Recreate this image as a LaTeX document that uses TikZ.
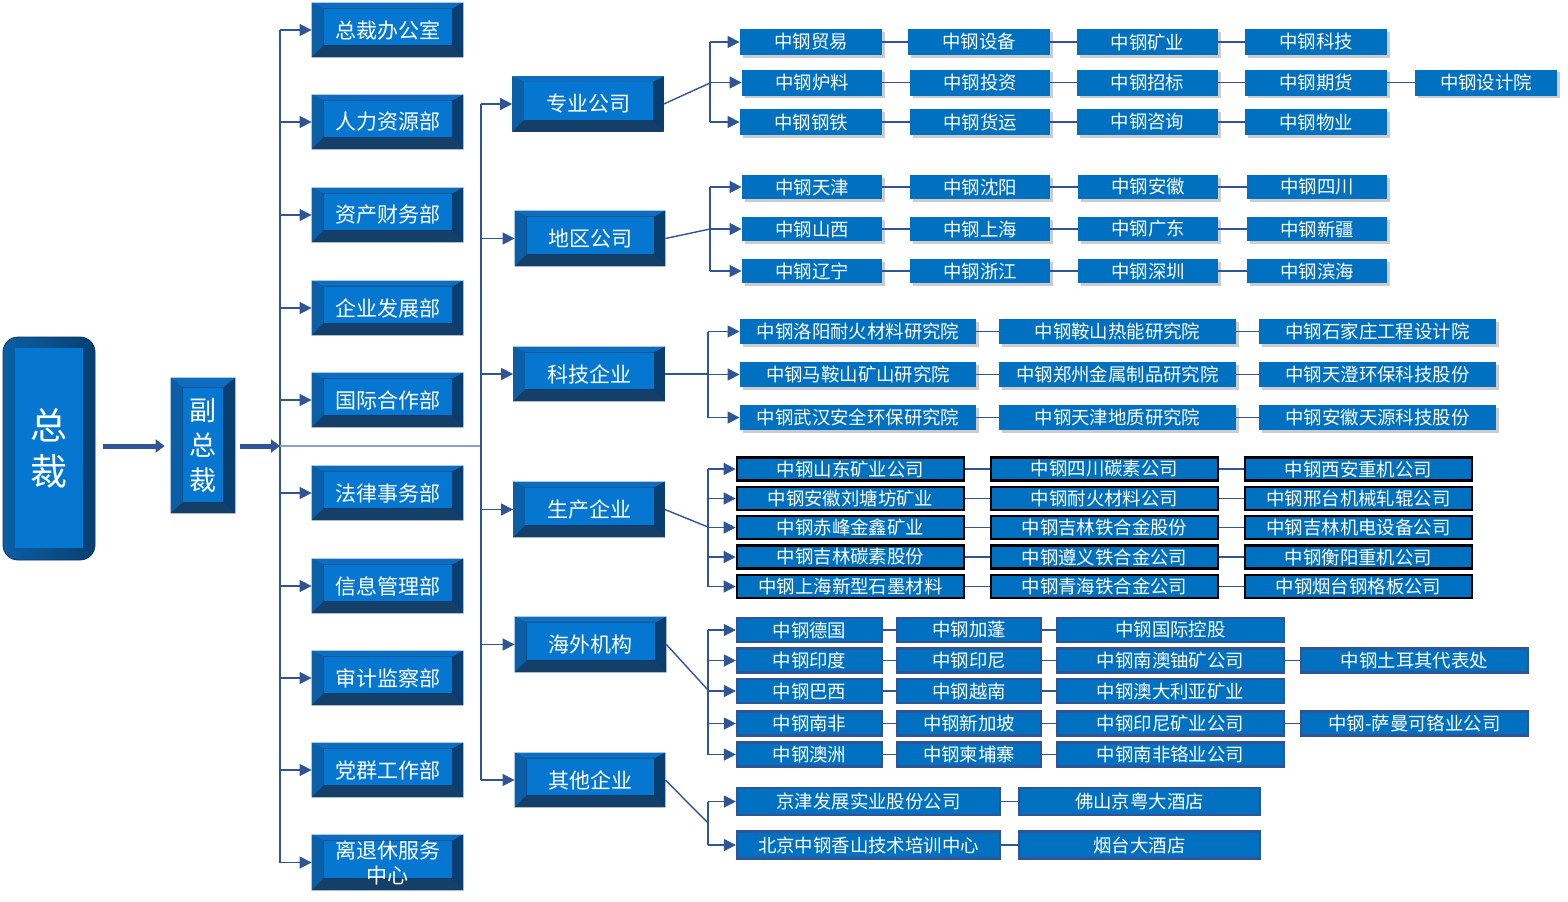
\documentclass[tikz,border=0pt]{standalone}
\usepackage{fontspec}
\setmainfont{Noto Sans CJK SC}
\usetikzlibrary{arrows.meta,shadows,calc}
\definecolor{lc}{HTML}{2F5597}
\definecolor{bf}{HTML}{0070C0}
\definecolor{bvface}{HTML}{0577D0}
\definecolor{bvtop}{HTML}{0E6DBE}
\definecolor{bvleft}{HTML}{0B5FA6}
\definecolor{bvright}{HTML}{083F70}
\definecolor{bvbot}{HTML}{143F68}
\definecolor{bvout}{HTML}{0B3360}
\tikzset{
 lnk/.style={draw=lc, line width=0.7pt},
 arr/.style={lnk, -{Triangle[length=6pt,width=6pt]}},
 bigarr/.style={draw=lc, line width=2.5pt, -{Triangle[length=4.5pt,width=6.5pt]}},
 sbox/.style={fill=bf, text=white, inner sep=0pt, font=\fontsize{9.2}{11}\selectfont},
 shd/.style={sbox, drop shadow={shadow xshift=1.3pt, shadow yshift=-1.3pt, fill=black, opacity=0.2}},
 blk/.style={sbox, draw=black, line width=1.3pt},
 blu/.style={sbox, draw=lc, line width=1.1pt},
 bigtxt/.style={text=white, font=\fontsize{10.5}{12.5}\selectfont, align=center},
}
\newcommand\bvL{12}\newcommand\bvR{11}\newcommand\bvT{6}\newcommand\bvB{12}
\newcommand\bevbox[8]{%
 \node[fill=bvout, inner sep=0pt, minimum width={#4*0.5pt}, minimum height={#5*0.5pt}, #6] (#1) at (#2,#3) {};
 \fill[bvtop] (#1.north west) -- (#1.north east) -- ([shift={(-\bvR,\bvT)}]#1.north east) -- ([shift={(\bvL,\bvT)}]#1.north west) -- cycle;
 \fill[bvleft] (#1.north west) -- ([shift={(\bvL,\bvT)}]#1.north west) -- ([shift={(\bvL,-\bvB)}]#1.south west) -- (#1.south west) -- cycle;
 \fill[bvbot] (#1.south west) -- ([shift={(\bvL,-\bvB)}]#1.south west) -- ([shift={(-\bvR,-\bvB)}]#1.south east) -- (#1.south east) -- cycle;
 \fill[bvright] (#1.north east) -- (#1.south east) -- ([shift={(-\bvR,-\bvB)}]#1.south east) -- ([shift={(-\bvR,\bvT)}]#1.north east) -- cycle;
 \fill[bvface] ([shift={(\bvL,\bvT)}]#1.north west) rectangle ([shift={(-\bvR,-\bvB)}]#1.south east);
 \node[bigtxt, #8] at (#1) {#7};
}
\newcommand\smbox[7]{%
 \node[#6, minimum width={(#3-#2)*0.5pt}, minimum height={#5*0.5pt}] (#1) at ({(#2+#3)/2},#4) {#7};
}
\begin{document}
\begin{tikzpicture}[x=0.5pt,y=-0.5pt]
\useasboundingbox (0,0) rectangle (1568,901);
% ---- 总裁
\node[shade, left color=bvleft, right color=bvright, draw=bvout, rounded corners=7.5pt, inner sep=0pt, minimum width=46pt, minimum height=111.5pt] (zc) at (49,448.5) {};
\fill[bvface] ([shift={(12,11)}]zc.north west) rectangle ([shift={(-12,-12)}]zc.south east);
\node[text=white, font=\fontsize{18.5}{23}\selectfont, align=center] at (zc) {总\\裁};
% ---- 副总裁
\renewcommand\bvT{10}\renewcommand\bvR{12}\renewcommand\bvB{11}
\bevbox{fz}{203}{445.5}{64}{135}{}{副\\总\\裁}{font=\fontsize{13.5}{17.5}\selectfont}
\renewcommand\bvT{6}\renewcommand\bvR{11}\renewcommand\bvB{12}
% ---- departments
\bevbox{d1}{387.5}{30}{151}{54}{}{总裁办公室}{}
\bevbox{d2}{387.5}{122}{151}{54}{}{人力资源部}{}
\bevbox{d3}{387.5}{215}{151}{54}{}{资产财务部}{}
\bevbox{d4}{387.5}{308}{151}{54}{}{企业发展部}{}
\bevbox{d5}{387.5}{400}{151}{54}{}{国际合作部}{}
\bevbox{d6}{387.5}{493}{151}{54}{}{法律事务部}{}
\bevbox{d7}{387.5}{586}{151}{54}{}{信息管理部}{}
\bevbox{d8}{387.5}{678}{151}{54}{}{审计监察部}{}
\bevbox{d9}{387.5}{770}{151}{54}{}{党群工作部}{}
\bevbox{d10}{387.5}{862.5}{151}{55}{}{离退休服务\\中心}{font=\fontsize{10.5}{12.5}\selectfont}
% ---- categories
\bevbox{zy}{588}{104}{150}{54}{draw=gray!45, line width=0.8pt}{专业公司}{}
\bevbox{dq}{590}{238.5}{150}{55}{}{地区公司}{}
\bevbox{kj}{589}{374}{151}{54}{}{科技企业}{}
\bevbox{sc}{589}{509.5}{151}{55}{}{生产企业}{}
\bevbox{hw}{590.5}{644.5}{151}{55}{}{海外机构}{}
\bevbox{qt}{590}{780}{150}{54}{}{其他企业}{}
% ---- main connectors
\coordinate (L) at (280,446);
\coordinate (R) at (481,446);
\draw[bigarr] ([xshift=4pt]zc.east |- L) -- ([xshift=-3pt]fz.west |- L);
\draw[bigarr] ([xshift=2.5pt]fz.east |- L) -- (L);
\draw[lnk] (L |- d1.west) -- (L |- d10.west);
\foreach \n in {d1,d2,d3,d4,d5,d6,d7,d8,d9,d10} \draw[arr] (L |- \n.west) -- (\n.west);
\draw[draw=lc!55, line width=0.8pt] (L) -- (R);
\draw[lnk] (R |- zy.west) -- (R |- qt.west);
\foreach \n in {zy,dq,kj,sc,hw,qt} \draw[arr] (R |- \n.west) -- (\n.west);
% ---- group a: 专业公司
\smbox{a11}{740}{882}{42}{26}{shd}{中钢贸易}
\smbox{a12}{908}{1050}{42}{26}{shd}{中钢设备}
\smbox{a13}{1077}{1218}{42}{26}{shd}{中钢矿业}
\smbox{a14}{1245}{1387}{42}{26}{shd}{中钢科技}
\smbox{a21}{742}{882}{82.5}{26}{shd}{中钢炉料}
\smbox{a22}{910}{1050}{82.5}{26}{shd}{中钢投资}
\smbox{a23}{1077}{1218}{82.5}{26}{shd}{中钢招标}
\smbox{a24}{1245}{1387}{82.5}{26}{shd}{中钢期货}
\smbox{a25}{1415}{1557}{82.5}{26}{shd}{中钢设计院}
\smbox{a31}{740}{882}{122}{26}{shd}{中钢钢铁}
\smbox{a32}{910}{1050}{122}{26}{shd}{中钢货运}
\smbox{a33}{1077}{1218}{122}{26}{shd}{中钢咨询}
\smbox{a34}{1245}{1387}{122}{26}{shd}{中钢物业}
\coordinate (ba) at (710,83);
\draw[lnk] (zy.east) -- (ba);
\draw[lnk] (ba |- a11.west) -- (ba |- a31.west);
\foreach \n in {a11,a21,a31} \draw[arr] (ba |- \n.west) -- (\n.west);
% ---- group b: 地区公司
\smbox{b11}{742}{882}{187}{24}{shd}{中钢天津}
\smbox{b12}{910}{1050}{187}{24}{shd}{中钢沈阳}
\smbox{b13}{1078}{1218}{187}{24}{shd}{中钢安徽}
\smbox{b14}{1247}{1387}{187}{24}{shd}{中钢四川}
\smbox{b21}{742}{882}{229}{24}{shd}{中钢山西}
\smbox{b22}{910}{1050}{229}{24}{shd}{中钢上海}
\smbox{b23}{1078}{1218}{229}{24}{shd}{中钢广东}
\smbox{b24}{1247}{1387}{229}{24}{shd}{中钢新疆}
\smbox{b31}{742}{882}{271}{24}{shd}{中钢辽宁}
\smbox{b32}{910}{1050}{271}{24}{shd}{中钢浙江}
\smbox{b33}{1078}{1218}{271}{24}{shd}{中钢深圳}
\smbox{b34}{1247}{1387}{271}{24}{shd}{中钢滨海}
\coordinate (bb) at (710,229);
\draw[lnk] (dq.east) -- (bb);
\draw[lnk] (bb |- b11.west) -- (bb |- b31.west);
\foreach \n in {b11,b21,b31} \draw[arr] (bb |- \n.west) -- (\n.west);
% ---- group c: 科技企业
\smbox{c11}{740}{976}{331.5}{25}{shd}{中钢洛阳耐火材料研究院}
\smbox{c12}{999}{1236}{331.5}{25}{shd}{中钢鞍山热能研究院}
\smbox{c13}{1259}{1496}{331.5}{25}{shd}{中钢石家庄工程设计院}
\smbox{c21}{740}{976}{374.5}{25}{shd}{中钢马鞍山矿山研究院}
\smbox{c22}{999}{1236}{374.5}{25}{shd}{中钢郑州金属制品研究院}
\smbox{c23}{1259}{1496}{374.5}{25}{shd}{中钢天澄环保科技股份}
\smbox{c31}{740}{976}{417.5}{25}{shd}{中钢武汉安全环保研究院}
\smbox{c32}{999}{1236}{417.5}{25}{shd}{中钢天津地质研究院}
\smbox{c33}{1259}{1496}{417.5}{25}{shd}{中钢安徽天源科技股份}
\coordinate (bc) at (708,374);
\draw[lnk] (kj.east) -- (bc);
\draw[lnk] (bc |- c11.west) -- (bc |- c31.west);
\foreach \n in {c11,c21,c31} \draw[arr] (bc |- \n.west) -- (\n.west);
% ---- group d: 生产企业
\smbox{d11x}{737}{964}{469}{23}{blk}{中钢山东矿业公司}
\smbox{d12x}{991}{1218}{469}{23}{blk}{中钢四川碳素公司}
\smbox{d13x}{1245}{1472}{469}{23}{blk}{中钢西安重机公司}
\smbox{d21x}{737}{964}{498.5}{23}{blk}{中钢安徽刘塘坊矿业}
\smbox{d22x}{991}{1218}{498.5}{23}{blk}{中钢耐火材料公司}
\smbox{d23x}{1245}{1472}{498.5}{23}{blk}{中钢邢台机械轧辊公司}
\smbox{d31x}{737}{964}{527.5}{23}{blk}{中钢赤峰金鑫矿业}
\smbox{d32x}{991}{1218}{527.5}{23}{blk}{中钢吉林铁合金股份}
\smbox{d33x}{1245}{1472}{527.5}{23}{blk}{中钢吉林机电设备公司}
\smbox{d41x}{737}{964}{557}{23}{blk}{中钢吉林碳素股份}
\smbox{d42x}{991}{1218}{557}{23}{blk}{中钢遵义铁合金公司}
\smbox{d43x}{1245}{1472}{557}{23}{blk}{中钢衡阳重机公司}
\smbox{d51x}{737}{964}{586.5}{23}{blk}{中钢上海新型石墨材料}
\smbox{d52x}{991}{1218}{586.5}{23}{blk}{中钢青海铁合金公司}
\smbox{d53x}{1245}{1472}{586.5}{23}{blk}{中钢烟台钢格板公司}
\coordinate (bd) at (708,527);
\draw[lnk] (sc.east) -- (bd);
\draw[lnk] (bd |- d11x.west) -- (bd |- d51x.west);
\foreach \n in {d11x,d21x,d31x,d41x,d51x} \draw[arr] (bd |- \n.west) -- (\n.west);
% ---- group e: 海外机构
\smbox{e11}{737}{882}{630}{24}{blu}{中钢德国}
\smbox{e12}{897}{1041}{630}{24}{blu}{中钢加蓬}
\smbox{e13}{1057}{1284}{630}{24}{blu}{中钢国际控股}
\smbox{e21}{737}{882}{660.5}{24}{blu}{中钢印度}
\smbox{e22}{897}{1041}{660.5}{24}{blu}{中钢印尼}
\smbox{e23}{1057}{1284}{660.5}{24}{blu}{中钢南澳铀矿公司}
\smbox{e24}{1301}{1528}{660.5}{24}{blu}{中钢土耳其代表处}
\smbox{e31}{737}{882}{691}{24}{blu}{中钢巴西}
\smbox{e32}{897}{1041}{691}{24}{blu}{中钢越南}
\smbox{e33}{1057}{1284}{691}{24}{blu}{中钢澳大利亚矿业}
\smbox{e41}{737}{882}{723.5}{24}{blu}{中钢南非}
\smbox{e42}{897}{1041}{723.5}{24}{blu}{中钢新加坡}
\smbox{e43}{1057}{1284}{723.5}{24}{blu}{中钢印尼矿业公司}
\smbox{e44}{1301}{1528}{723.5}{24}{blu}{中钢-萨曼可铬业公司}
\smbox{e51}{737}{882}{754.5}{24}{blu}{中钢澳洲}
\smbox{e52}{897}{1041}{754.5}{24}{blu}{中钢柬埔寨}
\smbox{e53}{1057}{1284}{754.5}{24}{blu}{中钢南非铬业公司}
\coordinate (be) at (708,690);
\draw[lnk] (hw.east) -- (be);
\draw[lnk] (be |- e11.west) -- (be |- e51.west);
\foreach \n in {e11,e21,e31,e41,e51} \draw[arr] (be |- \n.west) -- (\n.west);
% ---- group f: 其他企业
\smbox{f11}{737}{1000}{801.5}{27}{blu}{京津发展实业股份公司}
\smbox{f12}{1019}{1260}{801.5}{27}{blu}{佛山京粤大酒店}
\smbox{f21}{737}{1000}{845}{27}{blu}{北京中钢香山技术培训中心}
\smbox{f22}{1019}{1260}{845}{27}{blu}{烟台大酒店}
\coordinate (bf) at (708,823);
\draw[lnk] (qt.east) -- (bf);
\draw[lnk] (bf |- f11.west) -- (bf |- f21.west);
\foreach \n in {f11,f21} \draw[arr] (bf |- \n.west) -- (\n.west);
% ---- row connectors
\foreach \p/\q in {a11/a12,a12/a13,a13/a14,a21/a22,a22/a23,a23/a24,a24/a25,a31/a32,a32/a33,a33/a34,
  b11/b12,b12/b13,b13/b14,b21/b22,b22/b23,b23/b24,b31/b32,b32/b33,b33/b34,
  c11/c12,c12/c13,c21/c22,c22/c23,c31/c32,c32/c33,
  d11x/d12x,d12x/d13x,d21x/d22x,d22x/d23x,d31x/d32x,d32x/d33x,d41x/d42x,d42x/d43x,d51x/d52x,d52x/d53x,
  e11/e12,e12/e13,e21/e22,e22/e23,e23/e24,e31/e32,e32/e33,e41/e42,e42/e43,e43/e44,e51/e52,e52/e53,
  f11/f12,f21/f22}
  \draw[lnk] (\p.east) -- (\q.west);
\end{tikzpicture}
\end{document}
